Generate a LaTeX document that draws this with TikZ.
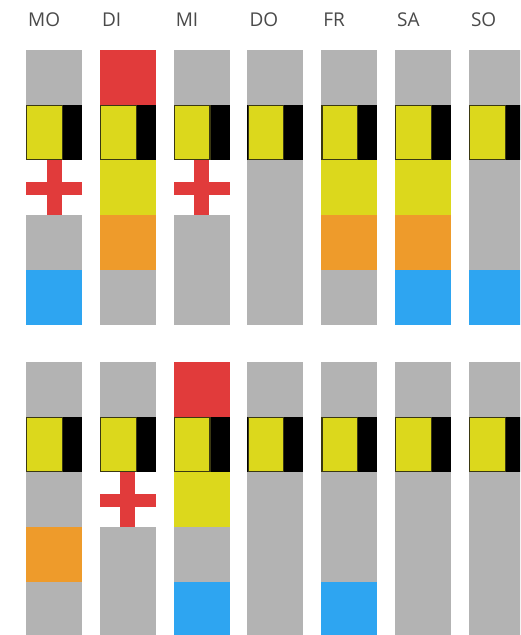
\documentclass[tikz,border=0pt]{standalone}
\usepackage{fontspec}
\setmainfont{Open Sans}
\usepackage{tikz}

\definecolor{slotgray}{HTML}{B3B3B3}
\definecolor{slotred}{HTML}{E13B3B}
\definecolor{slotyellow}{HTML}{DCD81C}
\definecolor{slotorange}{HTML}{EE9B2B}
\definecolor{slotblue}{HTML}{2EA5F1}
\definecolor{badgeedge}{HTML}{3A3812}
\definecolor{labelgray}{HTML}{4A4A4A}

% one 56 x 55 slot per letter code
\newcommand\slotfill[3]{\fill[#1] (#2,#3) rectangle ++(56,55);}
\newcommand\slotg[2]{\slotfill{slotgray}{#1}{#2}}
\newcommand\slotr[2]{\slotfill{slotred}{#1}{#2}}
\newcommand\sloty[2]{\slotfill{slotyellow}{#1}{#2}}
\newcommand\sloto[2]{\slotfill{slotorange}{#1}{#2}}
\newcommand\slotb[2]{\slotfill{slotblue}{#1}{#2}}
\newcommand\slotk[2]{\fill[black] (#1,#2) rectangle ++(56,55);
  \draw[badge] (#1+0.8,#2+0.8) rectangle ++(35.5,53.4);}
\newcommand\slotx[2]{\fill[slotred] (#1+20.5,#2) rectangle ++(15,55);
  \fill[slotred] (#1,#2+21.5) rectangle ++(56,13.5);}

\begin{document}
\begin{tikzpicture}[x=1pt, y=-1pt,
  daylabel/.style={anchor=base west, inner sep=0pt, font=\fontsize{19}{19}\selectfont, text=labelgray},
  badge/.style={fill=slotyellow, draw=badgeedge, line width=1.2pt}
]
\clip (0,0) rectangle (520,635);
\fill[white] (0,0) rectangle (520,635);

\foreach \day/\upper/\lower [count=\i from 0] in {
  MO/{g,k,x,g,b}/{g,k,g,o,g},
  DI/{r,k,y,o,g}/{g,k,x,g,g},
  MI/{g,k,x,g,g}/{r,k,y,g,b},
  DO/{g,k,g,g,g}/{g,k,g,g,g},
  FR/{g,k,y,o,g}/{g,k,g,g,b},
  SA/{g,k,y,o,b}/{g,k,g,g,g},
  SO/{g,k,g,g,b}/{g,k,g,g,g}}{
  \pgfmathsetmacro\cx{26+73.8*\i}
  \node[daylabel] (lbl-\day) at (\cx+2,26) {\day};
  \foreach \s [count=\j from 0] in \upper {\csname slot\s\endcsname{\cx}{50+55*\j}}
  \foreach \s [count=\j from 0] in \lower {\csname slot\s\endcsname{\cx}{362+55*\j}}
}
\end{tikzpicture}
\end{document}
